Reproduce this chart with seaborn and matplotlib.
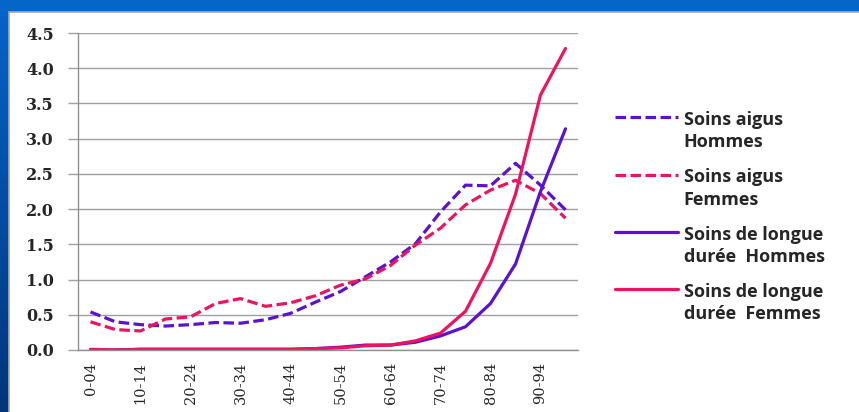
import numpy as np
import pandas as pd
import seaborn as sns
import matplotlib.pyplot as plt
from matplotlib.lines import Line2D
from matplotlib.patches import Rectangle
from matplotlib.colors import LinearSegmentedColormap
from matplotlib.legend_handler import HandlerLine2D

ages = ["0-04", "05-09", "10-14", "15-19", "20-24", "25-29", "30-34",
        "35-39", "40-44", "45-49", "50-54", "55-59", "60-64", "65-69",
        "70-74", "75-79", "80-84", "85-89", "90-94", "95+"]

aigus_hommes = [0.54, 0.40, 0.36, 0.34, 0.36, 0.39, 0.38, 0.43, 0.52, 0.68,
                0.83, 1.04, 1.25, 1.51, 1.96, 2.34, 2.33, 2.65, 2.34, 1.99]
aigus_femmes = [0.40, 0.29, 0.27, 0.44, 0.47, 0.66, 0.73, 0.62, 0.67, 0.77,
                0.92, 1.01, 1.20, 1.49, 1.73, 2.06, 2.27, 2.41, 2.22, 1.87]
longue_hommes = [0.00, 0.00, 0.01, 0.01, 0.01, 0.01, 0.01, 0.01, 0.01, 0.02,
                 0.04, 0.07, 0.07, 0.11, 0.20, 0.33, 0.66, 1.22, 2.25, 3.14]
longue_femmes = [0.01, 0.00, 0.01, 0.01, 0.01, 0.01, 0.01, 0.01, 0.01, 0.02,
                 0.03, 0.06, 0.07, 0.13, 0.24, 0.55, 1.23, 2.21, 3.62, 4.28]

series = ["Soins aigus\nHommes", "Soins aigus\nFemmes",
          "Soins de longue\ndurée  Hommes", "Soins de longue\ndurée  Femmes"]
violet = "#5a12d0"
rose = "#ec1460"
couleurs = dict(zip(series, [violet, rose, violet, rose]))
tirets = dict(zip(series, [(3.3, 1.4), (3.3, 1.4), "", ""]))

df = pd.DataFrame({
    "age": ages * 4,
    "valeur": aigus_hommes + aigus_femmes + longue_hommes + longue_femmes,
    "serie": np.repeat(series, len(ages)),
})

sns.set_style("white")

fig = plt.figure(figsize=(8.59, 4.12), dpi=100)

# cadre bleu facon diapositive
bg = fig.add_axes([0, 0, 1, 1], zorder=0)
bg.axis("off")
bg.set_xlim(0, 859)
bg.set_ylim(412, 0)
cmap = LinearSegmentedColormap.from_list("bleu", ["#0565c9", "#02357a"])
bg.imshow(np.linspace(0, 1, 256)[:, None], cmap=cmap, extent=[0, 9, 412, 0],
          aspect="auto")
bg.add_patch(Rectangle((0, 0), 859, 12, color="#0565c9"))
bg.add_patch(Rectangle((9, 12), 851, 401, facecolor="white",
                       edgecolor="#a8a8a8", lw=1.2))

ax = fig.add_axes([78 / 859, 62 / 412, 500 / 859, 317 / 412], zorder=1)

sns.lineplot(data=df, x="age", y="valeur", hue="serie", style="serie",
             palette=couleurs, dashes=tirets, linewidth=2.3, sort=False,
             legend=False, ax=ax)

ax.set_xlim(-0.5, len(ages) - 0.5)
ax.set_ylim(0, 4.5)
ax.set_yticks(np.arange(0, 4.51, 0.5))
ax.set_yticklabels([f"{v:.1f}" for v in np.arange(0, 4.51, 0.5)],
                   family="DejaVu Serif", weight="bold", fontsize=11.5)
ax.set_xticks(range(0, len(ages), 2))
ax.set_xticklabels(ages[::2], rotation=90, family="DejaVu Serif",
                   fontsize=10.5)
ax.set_xticks(np.arange(-0.5, len(ages), 1), minor=True)
ax.tick_params(axis="x", which="major", length=0, pad=8.5)
ax.tick_params(axis="x", which="minor", length=4.5, width=1, color="#909090",
               direction="out")
ax.tick_params(axis="y", length=7, width=1, color="#a0a0a0", pad=10.5,
               left=True)
ax.yaxis.grid(True, color="#a0a0a0", linewidth=1)
ax.xaxis.grid(False)
ax.set_axisbelow(True)
ax.set_xlabel("")
ax.set_ylabel("")
for s in ["top", "right"]:
    ax.spines[s].set_visible(False)
for s in ["left", "bottom"]:
    ax.spines[s].set_color("#909090")
    ax.spines[s].set_linewidth(1)


class HandlerPremiereLigne(HandlerLine2D):
    def create_artists(self, legend, orig_handle, xdescent, ydescent, width,
                       height, fontsize, trans):
        return super().create_artists(legend, orig_handle, xdescent,
                                      ydescent - 1.6 * fontsize, width,
                                      height, fontsize, trans)


poignees = [Line2D([], [], color=couleurs[s], linewidth=2.3,
                   linestyle=(0, tirets[s]) if tirets[s] else "-")
            for s in series]
leg = ax.legend(poignees, series, loc="upper left",
                bbox_to_anchor=(615 / 859, 1 - 111 / 412),
                bbox_transform=fig.transFigure, frameon=False,
                prop=dict(family="Open Sans", weight="bold", size=13),
                handlelength=3.5, handletextpad=0.3, labelspacing=0.95,
                borderpad=0, borderaxespad=0,
                handler_map={Line2D: HandlerPremiereLigne()})
for t in leg.get_texts():
    t.set_linespacing(1.3)

fig.savefig("out.png", dpi=100)
